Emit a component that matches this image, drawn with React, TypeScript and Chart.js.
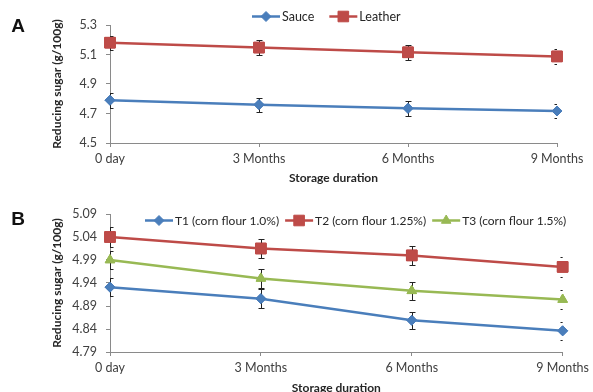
import React, { useEffect, useRef } from 'react';
import { Chart, registerables } from 'chart.js';

Chart.register(...registerables);

// ---------- data ----------
const categories = ['0 day', '3 Months', '6 Months', '9 Months'];

// Panel A
const sauceValues = [4.79, 4.76, 4.735, 4.717];
const sauceErrors = [0.05, 0.048, 0.05, 0.05];
const leatherValues = [5.18, 5.147, 5.115, 5.087];
const leatherErrors = [0.048, 0.048, 0.052, 0.05];
const yTicksA = [4.5, 4.7, 4.9, 5.1, 5.3];

// Panel B
const t1Values = [4.931, 4.906, 4.859, 4.836];
const t1Errors = [0.02, 0.021, 0.019, 0.02];
const t2Values = [5.04, 5.015, 5.0, 4.975];
const t2Errors = [0.021, 0.02, 0.02, 0.021];
const t3Values = [4.99, 4.95, 4.923, 4.904];
const t3Errors = [0.02, 0.02, 0.02, 0.02];
const yTicksB = [4.79, 4.84, 4.89, 4.94, 4.99, 5.04, 5.09];

const labelsA = ['Sauce', 'Leather'];
const labelsB = ['T1 (corn flour 1.0%)', 'T2 (corn flour 1.25%)', 'T3 (corn flour 1.5%)'];

// ---------- styles ----------
const BLUE = '#4A7EBB';
const RED = '#BE4B48';
const GREEN = '#98B954';
const AXIS = '#8a8a8a';
const TICK_TEXT = '#404040';
const TITLE_TEXT = '#262626';
const FONT = 'Lato, "Open Sans", "DejaVu Sans", sans-serif';

function drawMarker(ctx: CanvasRenderingContext2D, style: string, x: number, y: number, r: number, color: string) {
  ctx.save();
  ctx.fillStyle = color;
  ctx.strokeStyle = color;
  ctx.lineWidth = 1;
  ctx.beginPath();
  if (style === 'rectRot') {
    ctx.moveTo(x - r, y);
    ctx.lineTo(x, y - r);
    ctx.lineTo(x + r, y);
    ctx.lineTo(x, y + r);
    ctx.closePath();
  } else if (style === 'rect') {
    const s = r * Math.SQRT1_2;
    ctx.rect(x - s, y - s, 2 * s, 2 * s);
  } else {
    let rad = 0;
    ctx.moveTo(x + Math.sin(rad) * r, y - Math.cos(rad) * r);
    rad += (2 * Math.PI) / 3;
    ctx.lineTo(x + Math.sin(rad) * r, y - Math.cos(rad) * r);
    rad += (2 * Math.PI) / 3;
    ctx.lineTo(x + Math.sin(rad) * r, y - Math.cos(rad) * r);
    ctx.closePath();
  }
  ctx.fill();
  ctx.stroke();
  ctx.restore();
}

const errorBarPlugin = {
  id: 'errorBars',
  afterDatasetsDraw(chart: any) {
    const ctx = chart.ctx as CanvasRenderingContext2D;
    const area = chart.chartArea;
    const yScale = chart.scales.y;
    ctx.save();
    ctx.beginPath();
    ctx.rect(area.left, 0, area.right - area.left, chart.height);
    ctx.clip();
    ctx.strokeStyle = '#222';
    ctx.lineWidth = 1;
    chart.data.datasets.forEach((ds: any, i: number) => {
      const meta = chart.getDatasetMeta(i);
      const errs: number[] = ds.errorBars || [];
      meta.data.forEach((pt: any, j: number) => {
        const v = ds.data[j];
        const e = errs[j];
        if (e == null) return;
        const x = Math.round(pt.x) + 0.5;
        const yt = Math.round(yScale.getPixelForValue(v + e)) + 0.5;
        const yb = Math.round(yScale.getPixelForValue(v - e)) + 0.5;
        ctx.beginPath();
        ctx.moveTo(x, yt);
        ctx.lineTo(x, yb);
        ctx.moveTo(x - 3, yt);
        ctx.lineTo(x + 3, yt);
        ctx.moveTo(x - 3, yb);
        ctx.lineTo(x + 3, yb);
        ctx.stroke();
      });
    });
    ctx.restore();
    // redraw markers on top of the error bars
    chart.data.datasets.forEach((ds: any, i: number) => {
      const meta = chart.getDatasetMeta(i);
      meta.data.forEach((pt: any) => {
        drawMarker(ctx, ds.pointStyle, pt.x, pt.y, ds.pointRadius, ds.borderColor);
      });
    });
  },
};

const customLegendPlugin = {
  id: 'xlegend',
  afterDraw(chart: any, _args: any, opts: any) {
    const ctx = chart.ctx as CanvasRenderingContext2D;
    let x = opts.x;
    const y = opts.y;
    ctx.save();
    ctx.font = `${opts.size}px ${FONT}`;
    ctx.textBaseline = 'middle';
    ctx.textAlign = 'left';
    chart.data.datasets.forEach((ds: any) => {
      ctx.strokeStyle = ds.borderColor;
      ctx.lineWidth = 2.5;
      ctx.beginPath();
      ctx.moveTo(x, y);
      ctx.lineTo(x + 28, y);
      ctx.stroke();
      drawMarker(ctx, ds.pointStyle, x + 14, y, ds.pointRadius, ds.borderColor);
      ctx.fillStyle = TITLE_TEXT;
      ctx.fillText(ds.label, x + 30, y + 0.5);
      x += 30 + ctx.measureText(ds.label).width + opts.gap;
    });
    ctx.restore();
  },
};

const panelLabelPlugin = {
  id: 'panelLabel',
  afterDraw(chart: any, _args: any, opts: any) {
    const ctx = chart.ctx as CanvasRenderingContext2D;
    ctx.save();
    ctx.font = 'bold 19px "Liberation Sans", Arial, sans-serif';
    ctx.fillStyle = '#111';
    ctx.textAlign = 'center';
    ctx.textBaseline = 'middle';
    ctx.fillText(opts.text, opts.x, opts.y);
    ctx.restore();
  },
};

function makeDataset(label: string, data: number[], errors: number[], color: string, style: string, r: number) {
  return {
    label,
    data,
    errorBars: errors,
    borderColor: color,
    backgroundColor: color,
    pointBackgroundColor: color,
    pointBorderColor: color,
    pointStyle: style,
    pointRadius: r,
    pointBorderWidth: 1,
    borderWidth: 2.5,
    tension: 0,
    clip: false,
  };
}

function makeOptions(p: {
  padTop: number;
  padRight: number;
  xHeight: number;
  xTitlePadBottom: number;
  yMin: number;
  yMax: number;
  yTicks: number[];
  decimals: number;
  legend: { x: number; y: number; gap: number; size: number };
  panel: { text: string; x: number; y: number };
}) {
  return {
    responsive: false,
    animation: false,
    events: [],
    layout: { padding: { left: 0, top: p.padTop, right: p.padRight, bottom: 0 } },
    plugins: {
      legend: { display: false },
      tooltip: { enabled: false },
      xlegend: p.legend,
      panelLabel: p.panel,
    },
    scales: {
      x: {
        type: 'category',
        offset: false,
        grid: { display: true, drawOnChartArea: false, drawTicks: true, tickLength: 4, color: AXIS },
        border: { display: true, color: AXIS, width: 1 },
        ticks: { color: TICK_TEXT, font: { family: FONT, size: 12.5 }, padding: 4, maxRotation: 0, autoSkip: false },
        title: {
          display: true,
          text: 'Storage duration',
          color: TITLE_TEXT,
          font: { family: FONT, size: 12, weight: 'bold' },
          padding: { top: 0, bottom: p.xTitlePadBottom },
        },
        afterFit: (s: any) => {
          s.height = p.xHeight;
        },
      },
      y: {
        type: 'linear',
        min: p.yMin,
        max: p.yMax,
        afterBuildTicks: (s: any) => {
          s.ticks = p.yTicks.map((v) => ({ value: v }));
        },
        grid: { display: true, drawOnChartArea: false, drawTicks: true, tickLength: 4, color: AXIS },
        border: { display: true, color: AXIS, width: 1 },
        ticks: {
          color: TICK_TEXT,
          font: { family: FONT, size: 12.5 },
          padding: 9,
          callback: (v: any) => Number(v).toFixed(p.decimals),
        },
        title: {
          display: true,
          text: 'Reducing sugar (g/100g)',
          color: TITLE_TEXT,
          font: { family: FONT, size: 12, weight: 'bold' },
          padding: { top: 50, bottom: 0 },
        },
        afterFit: (s: any) => {
          s.width = 110;
        },
      },
    },
  };
}

function ChartCanvas({ config, top, height }: { config: any; top: number; height: number }) {
  const ref = useRef<HTMLCanvasElement>(null);
  useEffect(() => {
    if (!ref.current) return;
    const chart = new Chart(ref.current, config);
    return () => chart.destroy();
  }, []);
  return (
    <div style={{ position: 'absolute', left: 0, top, width: 593, height }}>
      <canvas ref={ref} width={593} height={height} style={{ width: 593, height, display: 'block' }} />
    </div>
  );
}

export default function App() {
  const configA = {
    type: 'line',
    data: {
      labels: categories,
      datasets: [
        makeDataset(labelsA[0], sauceValues, sauceErrors, BLUE, 'rectRot', 5),
        makeDataset(labelsA[1], leatherValues, leatherErrors, RED, 'rect', 7.5),
      ],
    },
    options: makeOptions({
      padTop: 25,
      padRight: 36,
      xHeight: 52,
      xTitlePadBottom: 10,
      yMin: 4.5,
      yMax: 5.3,
      yTicks: yTicksA,
      decimals: 1,
      legend: { x: 252, y: 16.5, gap: 15, size: 12.5 },
      panel: { text: 'A', x: 18, y: 27 },
    }),
    plugins: [errorBarPlugin, customLegendPlugin, panelLabelPlugin],
  };

  const configB = {
    type: 'line',
    data: {
      labels: categories,
      datasets: [
        makeDataset(labelsB[0], t1Values, t1Errors, BLUE, 'rectRot', 5),
        makeDataset(labelsB[1], t2Values, t2Errors, RED, 'rect', 7.5),
        makeDataset(labelsB[2], t3Values, t3Errors, GREEN, 'triangle', 5.5),
      ],
    },
    options: makeOptions({
      padTop: 19,
      padRight: 26,
      xHeight: 48,
      xTitlePadBottom: 5,
      yMin: 4.79,
      yMax: 5.09,
      yTicks: yTicksB,
      decimals: 2,
      legend: { x: 145, y: 25.5, gap: 6, size: 12 },
      panel: { text: 'B', x: 18, y: 24.5 },
    }),
    plugins: [errorBarPlugin, customLegendPlugin, panelLabelPlugin],
  };

  return (
    <div style={{ position: 'absolute', left: 0, top: 0, width: 593, height: 392, overflow: 'hidden', background: '#fff' }}>
      <ChartCanvas config={configA} top={0} height={195} />
      <ChartCanvas config={configB} top={195} height={205} />
    </div>
  );
}
